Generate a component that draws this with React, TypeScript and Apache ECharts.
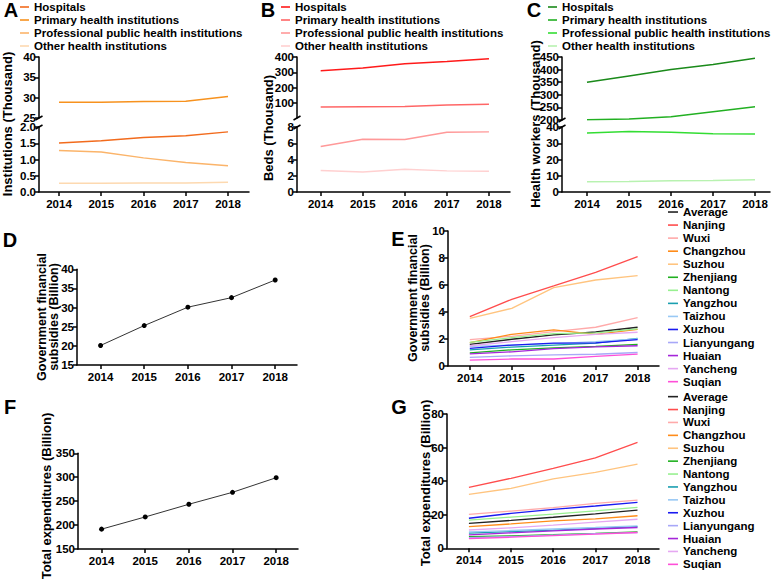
import React, { useEffect, useRef } from "react";
import * as echarts from "echarts";

const FONT = '"Liberation Sans", Arial, sans-serif';

const years = [2014, 2015, 2016, 2017, 2018];

// Panel A: Institutions (Thousand)
const instHospitals = [1.51, 1.58, 1.68, 1.73, 1.85];
const instPrimary = [28.9, 28.85, 29.05, 29.1, 30.3];
const instProfessional = [1.28, 1.23, 1.05, 0.91, 0.81];
const instOther = [0.27, 0.27, 0.28, 0.28, 0.3];

// Panel B: Beds (Thousand)
const bedsHospitals = [310, 328, 355, 370, 388];
const bedsPrimary = [72, 74, 76, 86, 90];
const bedsProfessional = [5.6, 6.5, 6.45, 7.35, 7.4];
const bedsOther = [2.65, 2.45, 2.8, 2.6, 2.55];

// Panel C: Health workers (Thousand)
const workersHospitals = [350, 375, 400, 420, 445];
const workersPrimary = [201, 204, 213, 233, 253];
const workersProfessional = [36.3, 37.3, 36.7, 35.9, 35.7];
const workersOther = [6.3, 6.5, 6.9, 7.1, 7.5];

// Panel D / F: totals
const subsidiesTotal = [20.1, 25.3, 30.1, 32.6, 37.2];
const expendituresTotal = [191.5, 217, 243.5, 268.5, 299];

// Panels E / G: cities
const cities = [
  "Average", "Nanjing", "Wuxi", "Changzhou", "Suzhou", "Zhenjiang", "Nantong",
  "Yangzhou", "Taizhou", "Xuzhou", "Lianyungang", "Huaian", "Yancheng", "Suqian",
];
const cityColors = [
  "#222222", "#FF4D4D", "#FFAAAA", "#FF8C1A", "#FFC47F", "#20B020", "#98F090",
  "#1A9FB0", "#99C9F5", "#1A1AF0", "#A8A8F8", "#A526D9", "#E6A8F2", "#FF4FD8",
];
const citySubsidies = [
  [1.6, 1.98, 2.3, 2.52, 2.87],
  [3.65, 4.94, 5.93, 6.94, 8.1],
  [1.95, 2.2, 2.55, 2.87, 3.58],
  [1.73, 2.35, 2.67, 2.35, 2.72],
  [3.53, 4.27, 5.8, 6.37, 6.69],
  [0.97, 1.2, 1.35, 1.45, 1.6],
  [1.75, 2.1, 2.4, 2.45, 2.75],
  [1.2, 1.4, 1.55, 1.7, 2.05],
  [1.45, 1.55, 1.65, 1.8, 2.0],
  [1.3, 1.55, 1.7, 1.72, 1.95],
  [0.64, 0.75, 0.82, 0.87, 1.0],
  [0.9, 1.05, 1.28, 1.42, 1.5],
  [1.5, 1.8, 2.1, 2.35, 2.5],
  [0.44, 0.52, 0.52, 0.72, 0.88],
];
const cityExpenditures = [
  [14.9, 16.6, 18.5, 20.5, 22.8],
  [36.3, 41.7, 47.6, 53.9, 63.1],
  [20.2, 22.2, 24.2, 26.8, 28.7],
  [12.9, 14.5, 16.3, 17.5, 19.4],
  [32.1, 35.7, 41.3, 45.2, 50.2],
  [6.9, 7.4, 8.1, 8.9, 9.8],
  [16.8, 18.6, 20.4, 22.3, 24.4],
  [9.0, 10.0, 10.8, 11.8, 12.9],
  [9.8, 10.6, 11.5, 12.4, 13.4],
  [17.9, 20.8, 23.2, 25.2, 27.4],
  [6.3, 7.0, 7.9, 8.7, 9.3],
  [8.0, 9.2, 10.4, 11.5, 12.4],
  [10.9, 12.2, 13.8, 15.6, 17.3],
  [5.8, 6.6, 7.5, 8.4, 9.4],
];

const groupNames = [
  "Hospitals",
  "Primary health institutions",
  "Professional public health institutions",
  "Other health institutions",
];
const colorsA = ["#F26B1D", "#F7921E", "#FBB46A", "#FDD9B0"];
const colorsB = ["#FF1A1A", "#FF6666", "#FF9999", "#FFD0D0"];
const colorsC = ["#1A8A1A", "#22B022", "#33DD33", "#B8F2B0"];

const pairs = (vals: number[]) => years.map((y, i) => [y, vals[i]]);

const lineStyleBase = { color: "#000", width: 1.5 };
const labelBase = { color: "#000", fontWeight: "bold", fontSize: 11.5, fontFamily: FONT };

function xAx(gridIndex: number, min: number, max: number, show: boolean) {
  return {
    type: "value",
    gridIndex,
    min,
    max,
    show,
    axisLine: { show: true, lineStyle: lineStyleBase },
    axisTick: { show: true, length: 4, lineStyle: lineStyleBase, customValues: years },
    axisLabel: { ...labelBase, margin: 6, customValues: years, formatter: (v: number) => String(v) },
    splitLine: { show: false },
  };
}

function yAx(gridIndex: number, min: number, max: number, interval: number, opts: any = {}) {
  return {
    type: "value",
    gridIndex,
    min,
    max,
    interval,
    axisLine: { show: true, lineStyle: lineStyleBase },
    axisTick: { show: true, length: 4, lineStyle: lineStyleBase },
    axisLabel: { ...labelBase, margin: 3, showMinLabel: opts.showMinLabel !== false, formatter: opts.formatter },
    splitLine: { show: false },
  };
}

function line(name: string, g: number, vals: number[], color: string, width = 1.5) {
  return {
    type: "line",
    name,
    xAxisIndex: g,
    yAxisIndex: g,
    data: pairs(vals),
    symbol: "none",
    lineStyle: { color, width },
    itemStyle: { color },
    silent: true,
  };
}

function dotLine(name: string, g: number, vals: number[]) {
  return {
    type: "line",
    name,
    xAxisIndex: g,
    yAxisIndex: g,
    data: pairs(vals),
    symbol: "circle",
    symbolSize: 5,
    showSymbol: true,
    lineStyle: { color: "#333", width: 1 },
    itemStyle: { color: "#000" },
    silent: true,
  };
}

function legend(left: number, top: number, data: string[], itemWidth: number, lh: number) {
  return {
    orient: "vertical",
    left,
    top,
    padding: 0,
    itemGap: 0,
    itemWidth,
    itemHeight: 1.6,
    icon: "rect",
    selectedMode: false,
    data,
    formatter: (n: string) => n.trim(),
    textStyle: { fontSize: 11.5, fontWeight: "bold", fontFamily: FONT, color: "#000", lineHeight: lh },
  };
}

function vTitle(text: string, x: number, y: number, size = 13, lh = 14) {
  return {
    type: "text",
    x,
    y,
    rotation: Math.PI / 2,
    style: {
      text,
      align: "center",
      verticalAlign: "middle",
      fontSize: size,
      fontWeight: "bold",
      fontFamily: FONT,
      fill: "#000",
      lineHeight: lh,
    },
  };
}

function letter(text: string, x: number, y: number) {
  return {
    type: "text",
    x,
    y,
    style: { text, fontSize: 20, fontWeight: "bold", fontFamily: FONT, fill: "#000", align: "center", verticalAlign: "middle" },
  };
}

function breakMarks(x: number, yTop: number, yBot: number) {
  const s = { stroke: "#000", lineWidth: 1.5 };
  return [
    { type: "line", shape: { x1: x - 3.5, y1: yTop + 2, x2: x + 3.5, y2: yTop - 2 }, style: s },
    { type: "line", shape: { x1: x - 3.5, y1: yBot + 2, x2: x + 3.5, y2: yBot - 2 }, style: s },
  ];
}

export default function App() {
  const ref = useRef<HTMLDivElement>(null);
  useEffect(() => {
    if (!ref.current) return;
    const chart = echarts.init(ref.current, undefined, { renderer: "svg" });

    const nA = groupNames;
    const nB = groupNames.map((n) => n + " ");
    const nC = groupNames.map((n) => n + "  ");
    const nG = cities.map((n) => n + " ");

    const fmt1 = (v: number) => v.toFixed(1);

    const series: any[] = [
      line(nA[0], 1, instHospitals, colorsA[0]),
      line(nA[1], 0, instPrimary, colorsA[1]),
      line(nA[2], 1, instProfessional, colorsA[2]),
      line(nA[3], 1, instOther, colorsA[3]),
      line(nB[0], 2, bedsHospitals, colorsB[0]),
      line(nB[1], 2, bedsPrimary, colorsB[1]),
      line(nB[2], 3, bedsProfessional, colorsB[2]),
      line(nB[3], 3, bedsOther, colorsB[3]),
      line(nC[0], 4, workersHospitals, colorsC[0]),
      line(nC[1], 4, workersPrimary, colorsC[1]),
      line(nC[2], 5, workersProfessional, colorsC[2]),
      line(nC[3], 5, workersOther, colorsC[3]),
      dotLine("Government financial subsidies", 6, subsidiesTotal),
      dotLine("Total expenditures", 8, expendituresTotal),
    ];
    cities.forEach((c, i) => {
      series.push(line(c, 7, citySubsidies[i], cityColors[i], 1.3));
    });
    cities.forEach((c, i) => {
      series.push(line(nG[i], 9, cityExpenditures[i], cityColors[i], 1.3));
    });

    const option: any = {
      animation: false,
      backgroundColor: "#fff",
      grid: [
        { left: 39, top: 57, width: 210, height: 61 },
        { left: 39, top: 127, width: 210, height: 65 },
        { left: 297, top: 57, width: 213, height: 61 },
        { left: 297, top: 127, width: 213, height: 65 },
        { left: 562, top: 57, width: 208, height: 63 },
        { left: 562, top: 127, width: 208, height: 65 },
        { left: 77, top: 269.3, width: 220, height: 95.7 },
        { left: 448, top: 231, width: 211, height: 135 },
        { left: 78, top: 453.3, width: 220, height: 95.7 },
        { left: 447, top: 414, width: 212, height: 134.3 },
      ],
      xAxis: [
        xAx(0, 2013.527, 2018.497, false),
        xAx(1, 2013.527, 2018.497, true),
        xAx(2, 2013.437, 2018.5, false),
        xAx(3, 2013.437, 2018.5, true),
        xAx(4, 2013.405, 2018.357, false),
        xAx(5, 2013.405, 2018.357, true),
        xAx(6, 2013.46, 2018.5, true),
        xAx(7, 2013.48, 2018.51, true),
        xAx(8, 2013.46, 2018.5, true),
        xAx(9, 2013.48, 2018.51, true),
      ],
      yAxis: [
        yAx(0, 25, 40, 5),
        yAx(1, 0, 2, 0.5, { formatter: fmt1 }),
        yAx(2, 0, 400, 100, { showMinLabel: false }),
        yAx(3, 0, 8, 2),
        yAx(4, 200, 450, 50),
        yAx(5, 0, 40, 10),
        yAx(6, 15, 40, 5),
        yAx(7, 0, 10, 2),
        yAx(8, 150, 350, 50),
        yAx(9, 0, 80, 20),
      ],
      legend: [
        legend(20, 0.5, nA, 9, 13),
        legend(281, 0.5, nB, 9, 13),
        legend(548, 0.5, nC, 9, 13),
        legend(668, 205.5, cities, 10, 13.05),
        legend(668, 390.2, nG, 10, 12.9),
      ],
      graphic: [
        letter("A", 11, 10),
        letter("B", 268, 10),
        letter("C", 534, 10),
        letter("D", 10, 240),
        letter("E", 398, 239),
        letter("F", 10, 407),
        letter("G", 399, 407),
        vTitle("Institutions (Thousand)", 7, 124),
        vTitle("Beds (Thousand)", 268, 128),
        vTitle("Health workers (Thousand)", 535, 124),
        vTitle("Government financial\nsubsidies (Billion)", 48, 317, 12.5, 12),
        vTitle("Government financial\nsubsidies (Billion)", 419, 298, 12.5, 12),
        vTitle("Total expenditures (Billion)", 46, 496),
        vTitle("Total expenditures (Billion)", 425, 483),
        ...breakMarks(39, 118, 127),
        ...breakMarks(297, 118, 127),
        ...breakMarks(562, 120, 127),
      ],
      series,
    };
    chart.setOption(option);
    return () => chart.dispose();
  }, []);
  return (
    <div
      ref={ref}
      style={{ position: "absolute", left: 0, top: 0, width: 778, height: 583, background: "#fff" }}
    />
  );
}
